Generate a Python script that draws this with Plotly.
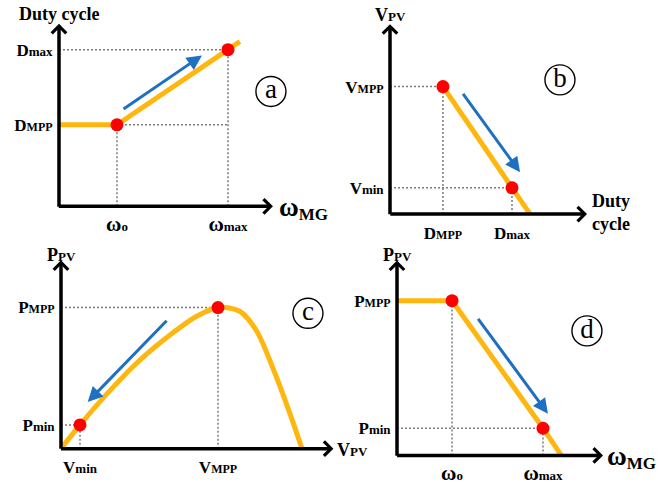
import plotly.graph_objects as go

# ---------------- data (schematic, normalised units) ----------------
# (a) duty cycle vs generator speed omega_MG
a_omega = [0.0, 0.343, 1.0, 1.07]
a_duty = [0.52, 0.52, 1.0, 1.052]
a_key_omega = [0.343, 1.0]            # omega_o, omega_max
a_key_duty = [0.52, 1.0]              # D_MPP, D_max
a_arrow_omega = [0.373, 0.846]        # tail, head
a_arrow_duty = [0.615, 0.963]
a_xtick_main = ["ω", "ω"]
a_xtick_sub = ["o", "max"]
a_ytick_main = ["D", "D"]
a_ytick_sub = ["MPP", "max"]

# (b) PV voltage vs duty cycle
b_duty = [0.434, 1.0, 1.148]
b_vpv = [1.0, 0.206, 0.0]
b_key_duty = [0.434, 1.0]             # D_MPP, D_max
b_key_vpv = [1.0, 0.206]              # V_MPP, V_min
b_arrow_duty = [0.59, 1.066]
b_arrow_vpv = [0.954, 0.328]
b_xtick_main = ["D", "D"]
b_xtick_sub = ["MPP", "max"]
b_ytick_main = ["V", "V"]
b_ytick_sub = ["min", "MPP"]

# (c) PV power vs PV voltage
c_vpv = [0.0, 0.121, 0.291, 0.503, 0.715, 0.864, 1.0, 1.14, 1.246, 1.35, 1.44, 1.535]
c_ppv = [0.0, 0.168, 0.386, 0.628, 0.823, 0.938, 1.0, 0.972, 0.834, 0.57, 0.305, 0.0]
c_key_vpv = [0.121, 1.0]              # V_min, V_MPP
c_key_ppv = [0.168, 1.0]              # P_min, P_MPP
c_arrow_vpv = [0.682, 0.17]
c_arrow_ppv = [0.917, 0.331]
c_xtick_main = ["V", "V"]
c_xtick_sub = ["min", "MPP"]
c_ytick_main = ["P", "P"]
c_ytick_sub = ["min", "MPP"]

# (d) PV power vs generator speed
d_omega = [0.0, 0.377, 1.0, 1.125]
d_ppv = [1.0, 1.0, 0.176, 0.0]
d_key_omega = [0.377, 1.0]            # omega_o, omega_max
d_key_ppv = [1.0, 0.176]              # P_MPP, P_min
d_arrow_omega = [0.548, 1.034]
d_arrow_ppv = [0.893, 0.27]
d_xtick_main = ["ω", "ω"]
d_xtick_sub = ["o", "max"]
d_ytick_main = ["P", "P"]
d_ytick_sub = ["min", "MPP"]

panel_letters = ["a", "b", "c", "d"]

# ---------------- styles / geometry ----------------
W, H = 664, 485
SERIF = "Liberation Serif, Times New Roman, serif"
ORANGE = "#FFB710"
BLUE = "#1F70C0"
RED = "#FF0000"
GUIDE = "#7a7a7a"

# pixel geometry of each panel: domain (x0,x1,y0,y1), origin px, px per unit,
# axis arrow tip (data units), letter-circle centre (data units)
GEO = [
    dict(dom=(0, 332, 0, 242), origin=(59, 212), unit=(169, 161),
         tip=(1.266, 1.165), circle=(1.254, 0.733)),
    dict(dom=(332, 664, 0, 242), origin=(390, 220), unit=(122, 131),
         tip=(1.615, 1.49), circle=(1.393, 1.053)),
    dict(dom=(0, 340, 242, 485), origin=(61, 461), unit=(157, 145),
         tip=(1.735, 1.335), circle=(1.573, 0.959)),
    dict(dom=(332, 664, 242, 485), origin=(397, 468), unit=(146, 159),
         tip=(1.411, 1.26), circle=(1.301, 0.805)),
]


def tick_label(main, sub, sub_caps=12, sub_low=13):
    size = sub_caps if sub.isupper() else sub_low
    if main == "ω":
        main = "<span style='font-size:21px'>ω</span>"
    return f"<b>{main}<span style='font-size:{size}px'>{sub}</span></b>"


def omega_title():
    return ("<b><span style='font-size:27px'>ω</span>"
            "<sub><span style='font-size:17px'>MG</span></sub></b>")


panels = [
    dict(curve=(a_omega, a_duty), key=(a_key_omega, a_key_duty),
         arrow=(a_arrow_omega, a_arrow_duty),
         xt=(a_key_omega, a_xtick_main, a_xtick_sub),
         yt=(sorted(a_key_duty), a_ytick_main, a_ytick_sub),
         guides=[([a_key_omega[0]] * 2, [0, a_key_duty[0]]),
                 ([a_key_omega[0], a_key_omega[1]], [a_key_duty[0]] * 2),
                 ([0, a_key_omega[1]], [a_key_duty[1]] * 2),
                 ([a_key_omega[1]] * 2, [0, a_key_duty[1]])],
         spline=False),
    dict(curve=(b_duty, b_vpv), key=(b_key_duty, b_key_vpv),
         arrow=(b_arrow_duty, b_arrow_vpv),
         xt=(b_key_duty, b_xtick_main, b_xtick_sub),
         yt=(sorted(b_key_vpv), b_ytick_main, b_ytick_sub),
         guides=[([0, b_key_duty[0]], [b_key_vpv[0]] * 2),
                 ([b_key_duty[0]] * 2, [0, b_key_vpv[0]]),
                 ([0, b_key_duty[1]], [b_key_vpv[1]] * 2),
                 ([b_key_duty[1]] * 2, [0, b_key_vpv[1]])],
         spline=False),
    dict(curve=(c_vpv, c_ppv), key=(c_key_vpv, c_key_ppv),
         arrow=(c_arrow_vpv, c_arrow_ppv),
         xt=(c_key_vpv, c_xtick_main, c_xtick_sub),
         yt=(sorted(c_key_ppv), c_ytick_main, c_ytick_sub),
         guides=[([0, c_key_vpv[1]], [c_key_ppv[1]] * 2),
                 ([c_key_vpv[1]] * 2, [0, c_key_ppv[1]]),
                 ([0, c_key_vpv[0]], [c_key_ppv[0]] * 2),
                 ([c_key_vpv[0]] * 2, [0, c_key_ppv[0]])],
         spline=True),
    dict(curve=(d_omega, d_ppv), key=(d_key_omega, d_key_ppv),
         arrow=(d_arrow_omega, d_arrow_ppv),
         xt=(d_key_omega, d_xtick_main, d_xtick_sub),
         yt=(sorted(d_key_ppv), d_ytick_main, d_ytick_sub),
         guides=[([d_key_omega[0]] * 2, [0, d_key_ppv[0]]),
                 ([0, d_key_omega[1]], [d_key_ppv[1]] * 2),
                 ([d_key_omega[1]] * 2, [0, d_key_ppv[1]])],
         spline=False),
]

# axis titles: (text, x, y, xanchor, yanchor, size) in data units
TITLES = [
    [("<b>Duty cycle</b>", 0.0, 1.23, "center", "middle", 18),
     (omega_title(), 1.29, -0.01, "left", "middle", 18)],
    [(tick_label("V", "PV", 13), 0.0, 1.56, "center", "middle", 18),
     ("<b>Duty<br>cycle</b>", 1.64, 0.01, "left", "middle", 18)],
    [(tick_label("P", "PV", 13), 0.0, 1.37, "center", "middle", 18),
     (tick_label("V", "PV", 13), 1.745, -0.01, "left", "middle", 18)],
    [(tick_label("P", "PV", 13), 0.0, 1.295, "center", "middle", 18),
     (omega_title(), 1.425, -0.01, "left", "middle", 18)],
]

fig = go.Figure()
annotations = []

for i, (p, g) in enumerate(zip(panels, GEO), start=1):
    sfx = "" if i == 1 else str(i)
    xr, yr = "x" + sfx, "y" + sfx
    x0, x1, y0, y1 = g["dom"]
    ox, oy = g["origin"]
    sx, sy = g["unit"]

    # dotted guide lines
    for gx, gy in p["guides"]:
        fig.add_trace(go.Scatter(x=gx, y=gy, mode="lines", xaxis=xr, yaxis=yr,
                                 line=dict(color=GUIDE, width=1.5, dash="2px,2px"),
                                 hoverinfo="skip", showlegend=False))
    # characteristic curve
    fig.add_trace(go.Scatter(x=p["curve"][0], y=p["curve"][1], mode="lines",
                             xaxis=xr, yaxis=yr,
                             line=dict(color=ORANGE, width=5,
                                       shape="spline" if p["spline"] else "linear",
                                       smoothing=0.9),
                             hoverinfo="skip", showlegend=False))
    # operating points
    fig.add_trace(go.Scatter(x=p["key"][0], y=p["key"][1], mode="markers",
                             xaxis=xr, yaxis=yr,
                             marker=dict(color=RED, size=13),
                             hoverinfo="skip", showlegend=False))
    # panel letter in circle
    fig.add_trace(go.Scatter(x=[g["circle"][0]], y=[g["circle"][1]],
                             mode="markers+text", xaxis=xr, yaxis=yr,
                             text=[panel_letters[i - 1]], textposition="middle center",
                             textfont=dict(family=SERIF, size=27, color="black"),
                             marker=dict(symbol="circle-open", size=30,
                                         color="black", line=dict(width=1.4)),
                             hoverinfo="skip", showlegend=False))

    # axes
    xt_vals, xt_main, xt_sub = p["xt"]
    yt_vals, yt_main, yt_sub = p["yt"]
    common = dict(showgrid=False, zeroline=False, showline=False,
                  ticks="outside", ticklen=3, tickcolor="rgba(0,0,0,0)",
                  tickfont=dict(family=SERIF, size=17, color="black"),
                  fixedrange=True, anchor="free")
    fig.layout["xaxis" + sfx] = dict(
        domain=[x0 / W, x1 / W],
        range=[(x0 - ox) / sx, (x1 - ox) / sx],
        position=1 - oy / H,
        tickvals=list(xt_vals),
        ticktext=[tick_label(m, s) for m, s in zip(xt_main, xt_sub)],
        **common)
    fig.layout["yaxis" + sfx] = dict(
        domain=[1 - y1 / H, 1 - y0 / H],
        range=[(oy - y1) / sy, (oy - y0) / sy],
        position=ox / W,
        tickvals=list(yt_vals),
        ticktext=[tick_label(m, s) for m, s in zip(yt_main, yt_sub)],
        **common)

    # blue direction arrow
    ax_, ay_ = p["arrow"]
    annotations.append(dict(xref=xr, yref=yr, axref=xr, ayref=yr,
                            x=ax_[1], y=ay_[1], ax=ax_[0], ay=ay_[0], text="",
                            showarrow=True, arrowhead=2, arrowsize=1.0,
                            arrowwidth=3, arrowcolor=BLUE))
    # black axis arrows
    tx, ty = g["tip"]
    annotations.append(dict(xref=xr, yref=yr, axref=xr, ayref=yr,
                            x=tx, y=0, ax=-0.01, ay=0, text="", showarrow=True,
                            arrowhead=4, arrowsize=0.8, arrowwidth=3.5,
                            arrowcolor="black"))
    annotations.append(dict(xref=xr, yref=yr, axref=xr, ayref=yr,
                            x=0, y=ty, ax=0, ay=-0.012, text="", showarrow=True,
                            arrowhead=4, arrowsize=0.8, arrowwidth=3.5,
                            arrowcolor="black"))
    # axis titles
    for txt, x, y, xa, ya, size in TITLES[i - 1]:
        annotations.append(dict(xref=xr, yref=yr, x=x, y=y, text=txt,
                                showarrow=False, xanchor=xa, yanchor=ya,
                                font=dict(family=SERIF, size=size, color="black")))

fig.update_layout(width=W, height=H, margin=dict(l=0, r=0, t=0, b=0),
                  paper_bgcolor="white", plot_bgcolor="rgba(0,0,0,0)",
                  showlegend=False, annotations=annotations)

fig.write_html("out.html")
